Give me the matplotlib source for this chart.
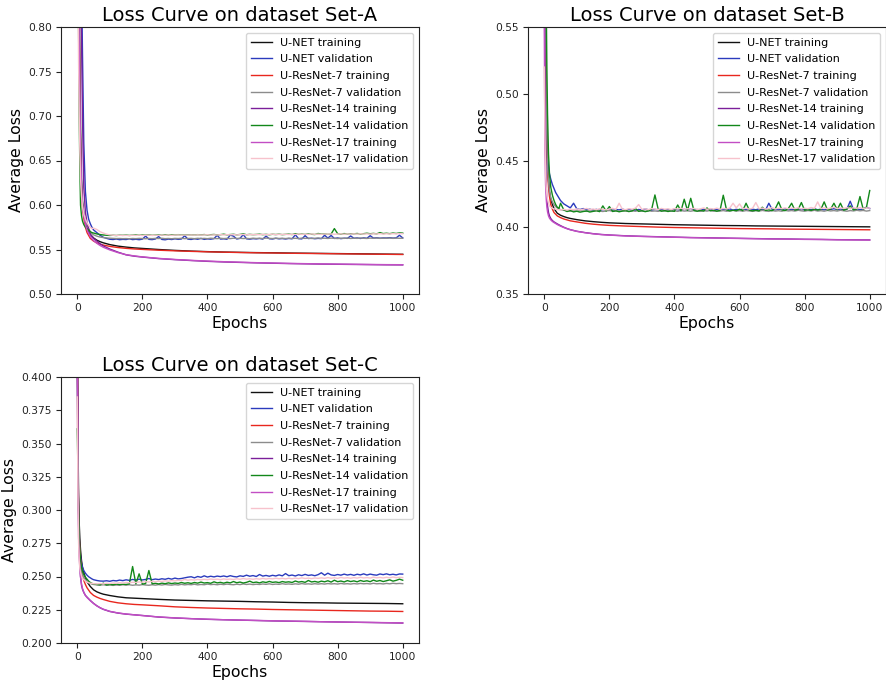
import matplotlib
matplotlib.use("Agg")
import matplotlib.pyplot as plt

# ---------------- epochs ----------------
ep_train = [0, 2, 4, 6, 8, 10, 13, 16, 20, 25, 30, 40, 50, 60, 70, 80, 100, 125, 150, 175,
            200, 250, 300, 350, 400, 450, 500, 550, 600, 650, 700, 750, 800, 850, 900, 950, 1000]
ep_val = [0, 2, 4, 6, 8, 10, 13, 16, 20, 25, 30, 35, 40, 45] + list(range(50, 1001, 10))

labels = ["U-NET training", "U-NET validation", "U-ResNet-7 training", "U-ResNet-7 validation",
          "U-ResNet-14 training", "U-ResNet-14 validation", "U-ResNet-17 training",
          "U-ResNet-17 validation"]
titles = ["Loss Curve on dataset Set-A", "Loss Curve on dataset Set-B", "Loss Curve on dataset Set-C"]

# ---------------- Set-A ----------------
a_unet_train = [1.10, 1.00, 0.92, 0.84, 0.76, 0.69, 0.63, 0.605, 0.59, 0.58, 0.574, 0.567, 0.5630,
                0.5605, 0.5588, 0.5575, 0.5555, 0.5538, 0.5527, 0.5518, 0.5512, 0.5500, 0.5490,
                0.5482, 0.5476, 0.5471, 0.5468, 0.5465, 0.5463, 0.5460, 0.5458, 0.5456, 0.5454,
                0.5452, 0.5450, 0.5448, 0.5446]
a_res7_train = [1.08, 0.98, 0.89, 0.80, 0.72, 0.66, 0.615, 0.597, 0.585, 0.575, 0.569, 0.5625, 0.5595,
                0.5575, 0.5560, 0.5550, 0.5535, 0.5522, 0.5513, 0.5506, 0.5501, 0.5492, 0.5485,
                0.5479, 0.5474, 0.5470, 0.5466, 0.5463, 0.5461, 0.5458, 0.5456, 0.5454, 0.5452,
                0.5450, 0.5448, 0.5446, 0.5444]
a_res14_train = [1.15, 1.08, 1.00, 0.94, 0.88, 0.84, 0.79, 0.70, 0.62, 0.592, 0.580, 0.567, 0.5625,
                 0.5595, 0.5565, 0.5540, 0.5505, 0.5470, 0.5440, 0.5425, 0.5415, 0.5398, 0.5386,
                 0.5376, 0.5367, 0.5360, 0.5355, 0.5350, 0.5346, 0.5342, 0.5339, 0.5336, 0.5334,
                 0.5332, 0.5330, 0.5328, 0.5327]
a_res17_train = [1.05, 0.95, 0.86, 0.78, 0.71, 0.66, 0.62, 0.60, 0.588, 0.578, 0.572, 0.5645, 0.5600,
                 0.5570, 0.5545, 0.5525, 0.5495, 0.5465, 0.5442, 0.5428, 0.5417, 0.5400, 0.5388,
                 0.5378, 0.5370, 0.5363, 0.5357, 0.5352, 0.5348, 0.5344, 0.5341, 0.5338, 0.5336,
                 0.5334, 0.5332, 0.5330, 0.5329]
a_unet_val = [1.10, 1.05, 0.98, 0.92, 0.87, 0.83, 0.86, 0.77, 0.67, 0.615, 0.594, 0.584, 0.579, 0.575,
              0.5720, 0.5690, 0.5660, 0.5637, 0.5625, 0.5615, 0.5612, 0.5618, 0.5610, 0.5614,
              0.5612, 0.5620, 0.5611, 0.5615, 0.5610, 0.5616, 0.5650, 0.5614, 0.5611, 0.5618,
              0.5645, 0.5613, 0.5609, 0.5617, 0.5612, 0.5620, 0.5614, 0.5618, 0.5655, 0.5616,
              0.5613, 0.5621, 0.5615, 0.5625, 0.5614, 0.5619, 0.5616, 0.5622, 0.5660, 0.5617,
              0.5620, 0.5615, 0.5662, 0.5650, 0.5618, 0.5625, 0.5668, 0.5620, 0.5616, 0.5622,
              0.5619, 0.5624, 0.5617, 0.5650, 0.5621, 0.5618, 0.5626, 0.5620, 0.5623, 0.5618,
              0.5624, 0.5620, 0.5665, 0.5622, 0.5619, 0.5655, 0.5623, 0.5627, 0.5621, 0.5625,
              0.5622, 0.5660, 0.5628, 0.5658, 0.5624, 0.5630, 0.5622, 0.5627, 0.5625, 0.5652,
              0.5626, 0.5630, 0.5624, 0.5631, 0.5626, 0.5655, 0.5628, 0.5632, 0.5627, 0.5630,
              0.5629, 0.5633, 0.5628, 0.5631, 0.5660, 0.5630]
a_res7_val = [1.05, 0.98, 0.90, 0.80, 0.72, 0.66, 0.62, 0.60, 0.59, 0.582, 0.577, 0.573, 0.570, 0.568,
              0.5665, 0.5650, 0.5640, 0.5634, 0.5630, 0.5627, 0.5625, 0.5623, 0.5624, 0.5622,
              0.5623, 0.5621, 0.5624, 0.5622, 0.5625, 0.5623, 0.5621, 0.5624, 0.5622, 0.5625,
              0.5623, 0.5626, 0.5622, 0.5624, 0.5621, 0.5625, 0.5623, 0.5626, 0.5622, 0.5624,
              0.5625, 0.5622, 0.5626, 0.5623, 0.5625, 0.5622, 0.5627, 0.5624, 0.5622, 0.5626,
              0.5623, 0.5625, 0.5622, 0.5627, 0.5624, 0.5626, 0.5623, 0.5625, 0.5622, 0.5627,
              0.5624, 0.5626, 0.5623, 0.5628, 0.5625, 0.5623, 0.5627, 0.5624, 0.5626, 0.5623,
              0.5627, 0.5624, 0.5626, 0.5623, 0.5628, 0.5625, 0.5627, 0.5624, 0.5626, 0.5629,
              0.5625, 0.5627, 0.5624, 0.5628, 0.5626, 0.5623, 0.5627, 0.5625, 0.5628, 0.5624,
              0.5627, 0.5625, 0.5629, 0.5626, 0.5624, 0.5628, 0.5626, 0.5629, 0.5625, 0.5627,
              0.5626, 0.5629, 0.5625, 0.5628, 0.5626, 0.5627]
a_res14_val = [1.00, 0.90, 0.80, 0.70, 0.64, 0.60, 0.588, 0.582, 0.578, 0.575, 0.573, 0.572, 0.570, 0.569,
               0.5685, 0.5675, 0.5668, 0.5663, 0.5660, 0.5658, 0.5660, 0.5657, 0.5661, 0.5659,
               0.5662, 0.5658, 0.5661, 0.5664, 0.5660, 0.5663, 0.5661, 0.5665, 0.5659, 0.5662,
               0.5664, 0.5661, 0.5666, 0.5662, 0.5665, 0.5663, 0.5667, 0.5662, 0.5665, 0.5663,
               0.5666, 0.5662, 0.5667, 0.5664, 0.5668, 0.5663, 0.5666, 0.5669, 0.5664, 0.5667,
               0.5672, 0.5665, 0.5668, 0.5671, 0.5665, 0.5669, 0.5676, 0.5666, 0.5670, 0.5667,
               0.5669, 0.5672, 0.5667, 0.5670, 0.5666, 0.5671, 0.5668, 0.5672, 0.5667, 0.5670,
               0.5673, 0.5668, 0.5678, 0.5670, 0.5673, 0.5669, 0.5675, 0.5671, 0.5668, 0.5680,
               0.5672, 0.5675, 0.5670, 0.5674, 0.5735, 0.5678, 0.5673, 0.5679, 0.5674, 0.5677,
               0.5676, 0.5680, 0.5674, 0.5678, 0.5683, 0.5677, 0.5681, 0.5676, 0.5690, 0.5679,
               0.5683, 0.5678, 0.5685, 0.5680, 0.5687, 0.5684]
a_res17_val = [0.95, 0.85, 0.76, 0.70, 0.66, 0.63, 0.61, 0.598, 0.590, 0.584, 0.580, 0.577, 0.575, 0.5735,
               0.5740, 0.5725, 0.5700, 0.5685, 0.5672, 0.5664, 0.5660, 0.5658, 0.5660, 0.5657,
               0.5659, 0.5656, 0.5660, 0.5658, 0.5661, 0.5657, 0.5660, 0.5662, 0.5658, 0.5661,
               0.5659, 0.5662, 0.5660, 0.5663, 0.5659, 0.5662, 0.5664, 0.5660, 0.5663, 0.5661,
               0.5664, 0.5661, 0.5665, 0.5662, 0.5664, 0.5666, 0.5662, 0.5665, 0.5663, 0.5667,
               0.5664, 0.5667, 0.5665, 0.5668, 0.5664, 0.5667, 0.5669, 0.5665, 0.5668, 0.5666,
               0.5669, 0.5666, 0.5670, 0.5667, 0.5669, 0.5672, 0.5667, 0.5670, 0.5668, 0.5671,
               0.5668, 0.5671, 0.5669, 0.5673, 0.5670, 0.5672, 0.5669, 0.5674, 0.5671, 0.5673,
               0.5670, 0.5674, 0.5672, 0.5675, 0.5671, 0.5674, 0.5676, 0.5672, 0.5675, 0.5673,
               0.5676, 0.5673, 0.5677, 0.5674, 0.5676, 0.5673, 0.5677, 0.5675, 0.5678, 0.5674,
               0.5677, 0.5675, 0.5678, 0.5676, 0.5679, 0.5677]

# ---------------- Set-B ----------------
b_unet_train = [0.80, 0.65, 0.56, 0.50, 0.465, 0.448, 0.435, 0.427, 0.421, 0.417, 0.414, 0.4105, 0.4090,
                0.4080, 0.4072, 0.4066, 0.4057, 0.4048, 0.4042, 0.4037, 0.4033, 0.4028, 0.4025,
                0.4022, 0.4019, 0.4017, 0.4015, 0.4013, 0.4012, 0.4010, 0.4009, 0.4008, 0.4007,
                0.4006, 0.4005, 0.4004, 0.4003]
b_res7_train = [0.78, 0.63, 0.545, 0.49, 0.458, 0.442, 0.430, 0.423, 0.417, 0.4135, 0.411, 0.4085, 0.4072,
                0.4062, 0.4055, 0.4048, 0.4040, 0.4030, 0.4023, 0.4018, 0.4014, 0.4009, 0.4005,
                0.4001, 0.3998, 0.3996, 0.3994, 0.3992, 0.3990, 0.3989, 0.3988, 0.3986, 0.3985,
                0.3984, 0.3983, 0.3982, 0.3981]
b_res14_train = [0.62, 0.50, 0.455, 0.432, 0.421, 0.416, 0.411, 0.4085, 0.4065, 0.4050, 0.4040, 0.4025,
                 0.4012, 0.4000, 0.3990, 0.3982, 0.3970, 0.3960, 0.3952, 0.3946, 0.3942, 0.3936,
                 0.3932, 0.3929, 0.3926, 0.3923, 0.3921, 0.3919, 0.3917, 0.3915, 0.3913, 0.3912,
                 0.3910, 0.3909, 0.3907, 0.3906, 0.3905]
b_res17_train = [0.55, 0.46, 0.432, 0.421, 0.415, 0.4115, 0.4085, 0.4068, 0.4055, 0.4043, 0.4035, 0.4020,
                 0.4008, 0.3998, 0.3989, 0.3981, 0.3969, 0.3959, 0.3951, 0.3945, 0.3941, 0.3935,
                 0.3931, 0.3928, 0.3925, 0.3922, 0.3920, 0.3918, 0.3916, 0.3914, 0.3912, 0.3911,
                 0.3909, 0.3908, 0.3906, 0.3905, 0.3904]
b_unet_val = [0.80, 0.65, 0.56, 0.50, 0.462, 0.452, 0.445, 0.440, 0.436, 0.432, 0.429, 0.426, 0.424, 0.422,
              0.4200, 0.4175, 0.4160, 0.4145, 0.4180, 0.4138, 0.4133, 0.4140, 0.4130, 0.4135,
              0.4128, 0.4134, 0.4126, 0.4132, 0.4129, 0.4135, 0.4127, 0.4133, 0.4130, 0.4136,
              0.4128, 0.4134, 0.4130, 0.4126, 0.4133, 0.4129, 0.4137, 0.4131, 0.4127, 0.4134,
              0.4130, 0.4136, 0.4128, 0.4133, 0.4129, 0.4135, 0.4131, 0.4127, 0.4134, 0.4130,
              0.4136, 0.4129, 0.4133, 0.4127, 0.4135, 0.4131, 0.4138, 0.4130, 0.4134, 0.4128,
              0.4135, 0.4131, 0.4137, 0.4129, 0.4134, 0.4130, 0.4136, 0.4132, 0.4128, 0.4135,
              0.4131, 0.4137, 0.4133, 0.4129, 0.4180, 0.4134, 0.4130, 0.4136, 0.4132, 0.4138,
              0.4131, 0.4135, 0.4129, 0.4137, 0.4133, 0.4130, 0.4136, 0.4132, 0.4138, 0.4131,
              0.4135, 0.4130, 0.4137, 0.4133, 0.4139, 0.4132, 0.4136, 0.4131, 0.4137, 0.4195,
              0.4134, 0.4138, 0.4132, 0.4137, 0.4150, 0.4140]
b_res7_val = [0.78, 0.63, 0.55, 0.495, 0.46, 0.445, 0.434, 0.427, 0.422, 0.419, 0.417, 0.4155, 0.4145, 0.4138,
              0.4132, 0.4127, 0.4124, 0.4121, 0.4123, 0.4120, 0.4124, 0.4121, 0.4119, 0.4123,
              0.4120, 0.4124, 0.4121, 0.4118, 0.4122, 0.4125, 0.4120, 0.4123, 0.4119, 0.4124,
              0.4121, 0.4118, 0.4123, 0.4120, 0.4125, 0.4121, 0.4119, 0.4124, 0.4120, 0.4122,
              0.4119, 0.4124, 0.4121, 0.4126, 0.4120, 0.4123, 0.4119, 0.4125, 0.4121, 0.4123,
              0.4120, 0.4125, 0.4122, 0.4119, 0.4124, 0.4121, 0.4126, 0.4120, 0.4123, 0.4121,
              0.4125, 0.4120, 0.4123, 0.4127, 0.4121, 0.4124, 0.4120, 0.4125, 0.4122, 0.4119,
              0.4124, 0.4121, 0.4126, 0.4122, 0.4119, 0.4125, 0.4121, 0.4124, 0.4120, 0.4126,
              0.4122, 0.4125, 0.4121, 0.4127, 0.4123, 0.4120, 0.4125, 0.4122, 0.4127, 0.4121,
              0.4124, 0.4120, 0.4126, 0.4122, 0.4125, 0.4121, 0.4127, 0.4123, 0.4120, 0.4125,
              0.4122, 0.4127, 0.4123, 0.4126, 0.4121, 0.4125]
b_res14_val = [0.90, 0.75, 0.64, 0.57, 0.52, 0.485, 0.455, 0.44, 0.43, 0.424, 0.42, 0.417, 0.415, 0.414,
               0.4180, 0.4130, 0.4118, 0.4125, 0.4115, 0.4120, 0.4113, 0.4118, 0.4122, 0.4114,
               0.4119, 0.4124, 0.4117, 0.4160, 0.4121, 0.4155, 0.4118, 0.4123, 0.4116, 0.4121,
               0.4125, 0.4118, 0.4122, 0.4140, 0.4119, 0.4124, 0.4117, 0.4122, 0.4135, 0.4242,
               0.4135, 0.4120, 0.4125, 0.4118, 0.4123, 0.4119, 0.4167, 0.4122, 0.4210, 0.4126,
               0.4217, 0.4125, 0.4120, 0.4127, 0.4121, 0.4145, 0.4123, 0.4128, 0.4120, 0.4126,
               0.4240, 0.4130, 0.4122, 0.4127, 0.4124, 0.4135, 0.4125, 0.4180, 0.4128, 0.4123,
               0.4127, 0.4122, 0.4150, 0.4126, 0.4130, 0.4124, 0.4140, 0.4190, 0.4130, 0.4125,
               0.4140, 0.4180, 0.4128, 0.4133, 0.4185, 0.4127, 0.4132, 0.4126, 0.4135, 0.4129,
               0.4134, 0.4190, 0.4130, 0.4136, 0.4180, 0.4131, 0.4180, 0.4128, 0.4135, 0.4160,
               0.4130, 0.4136, 0.4230, 0.4135, 0.4150, 0.4275]
b_res17_val = [0.52, 0.47, 0.44, 0.43, 0.424, 0.421, 0.418, 0.416, 0.415, 0.4142, 0.4138, 0.4135, 0.4133, 0.4131,
               0.4130, 0.4134, 0.4128, 0.4136, 0.4131, 0.4138, 0.4130, 0.4135, 0.4141, 0.4132,
               0.4137, 0.4131, 0.4139, 0.4134, 0.4130, 0.4136, 0.4142, 0.4133, 0.4180, 0.4135,
               0.4132, 0.4139, 0.4135, 0.4143, 0.4170, 0.4134, 0.4138, 0.4132, 0.4140, 0.4136,
               0.4133, 0.4141, 0.4135, 0.4138, 0.4132, 0.4140, 0.4136, 0.4143, 0.4134, 0.4139,
               0.4135, 0.4142, 0.4133, 0.4138, 0.4145, 0.4134, 0.4140, 0.4136, 0.4143, 0.4135,
               0.4141, 0.4137, 0.4144, 0.4180, 0.4145, 0.4175, 0.4138, 0.4143, 0.4136, 0.4142,
               0.4185, 0.4139, 0.4144, 0.4136, 0.4141, 0.4147, 0.4137, 0.4143, 0.4139, 0.4145,
               0.4138, 0.4144, 0.4140, 0.4146, 0.4137, 0.4143, 0.4139, 0.4148, 0.4141, 0.4190,
               0.4140, 0.4146, 0.4138, 0.4144, 0.4150, 0.4139, 0.4145, 0.4141, 0.4147, 0.4140,
               0.4146, 0.4142, 0.4148, 0.4140, 0.4145, 0.4143]

# ---------------- Set-C ----------------
c_unet_train = [0.45, 0.36, 0.31, 0.29, 0.278, 0.27, 0.262, 0.257, 0.253, 0.249, 0.246, 0.2425, 0.2400,
                0.2385, 0.2375, 0.2367, 0.2357, 0.2347, 0.2340, 0.2337, 0.2334, 0.2328, 0.2323,
                0.2320, 0.2317, 0.2315, 0.2313, 0.2310, 0.2308, 0.2305, 0.2303, 0.2302, 0.2300,
                0.2299, 0.2298, 0.2297, 0.2295]
c_res7_train = [0.44, 0.35, 0.30, 0.28, 0.27, 0.263, 0.256, 0.251, 0.247, 0.244, 0.2415, 0.2380, 0.2358,
                0.2345, 0.2335, 0.2327, 0.2313, 0.2302, 0.2295, 0.2290, 0.2287, 0.2280, 0.2272,
                0.2267, 0.2263, 0.2260, 0.2257, 0.2255, 0.2252, 0.2250, 0.2248, 0.2246, 0.2244,
                0.2242, 0.2240, 0.2239, 0.2237]
c_res14_train = [0.45, 0.34, 0.29, 0.27, 0.258, 0.25, 0.2435, 0.2405, 0.238, 0.2358, 0.2345, 0.2320,
                 0.2298, 0.2280, 0.2265, 0.2253, 0.2237, 0.2225, 0.2217, 0.2212, 0.2207, 0.2195,
                 0.2188, 0.2183, 0.2178, 0.2175, 0.2172, 0.2169, 0.2166, 0.2164, 0.2162, 0.2160,
                 0.2158, 0.2156, 0.2154, 0.2152, 0.2150]
c_res17_train = [0.41, 0.32, 0.28, 0.265, 0.256, 0.2495, 0.2445, 0.241, 0.2382, 0.2358, 0.2342, 0.2318,
                 0.2297, 0.2279, 0.2265, 0.2254, 0.2238, 0.2226, 0.2218, 0.2212, 0.2206, 0.2196,
                 0.2189, 0.2183, 0.2179, 0.2175, 0.2172, 0.2170, 0.2167, 0.2165, 0.2163, 0.2160,
                 0.2158, 0.2156, 0.2155, 0.2153, 0.2151]
c_unet_val = [0.42, 0.34, 0.30, 0.28, 0.27, 0.265, 0.26, 0.257, 0.2545, 0.2525, 0.251, 0.2498, 0.249, 0.2482,
              0.2476, 0.2470, 0.2466, 0.2465, 0.2468, 0.2464, 0.2470, 0.2467, 0.2473, 0.2469,
              0.2475, 0.2471, 0.2478, 0.2473, 0.2480, 0.2474, 0.2478, 0.2485, 0.2476, 0.2481,
              0.2477, 0.2483, 0.2479, 0.2486, 0.2480, 0.2488, 0.2482, 0.2485, 0.2490, 0.2495,
              0.2498, 0.2490, 0.2500, 0.2494, 0.2505, 0.2496, 0.2502, 0.2497, 0.2503, 0.2499,
              0.2504, 0.2498, 0.2506, 0.2500, 0.2497, 0.2505, 0.2501, 0.2510, 0.2502, 0.2507,
              0.2500, 0.2515, 0.2503, 0.2508, 0.2502, 0.2509, 0.2504, 0.2512, 0.2505, 0.2522,
              0.2506, 0.2511, 0.2504, 0.2513, 0.2507, 0.2516, 0.2508, 0.2512, 0.2506, 0.2514,
              0.2528, 0.2510, 0.2525, 0.2512, 0.2508, 0.2515, 0.2510, 0.2518, 0.2511, 0.2516,
              0.2509, 0.2517, 0.2512, 0.2520, 0.2511, 0.2518, 0.2513, 0.2510, 0.2519, 0.2514,
              0.2520, 0.2513, 0.2517, 0.2512, 0.2519, 0.2518]
c_res7_val = [0.40, 0.33, 0.295, 0.275, 0.265, 0.259, 0.2545, 0.2515, 0.2492, 0.2475, 0.2462, 0.2455, 0.2448, 0.2443,
              0.2440, 0.2437, 0.2435, 0.2438, 0.2434, 0.2437, 0.2433, 0.2436, 0.2434, 0.2438,
              0.2435, 0.2438, 0.2434, 0.2437, 0.2435, 0.2439, 0.2436, 0.2434, 0.2438, 0.2435,
              0.2439, 0.2436, 0.2440, 0.2437, 0.2435, 0.2439, 0.2436, 0.2441, 0.2437, 0.2440,
              0.2438, 0.2442, 0.2437, 0.2440, 0.2438, 0.2443, 0.2439, 0.2441, 0.2438, 0.2442,
              0.2439, 0.2443, 0.2440, 0.2438, 0.2442, 0.2439, 0.2444, 0.2440, 0.2443, 0.2439,
              0.2442, 0.2440, 0.2444, 0.2441, 0.2445, 0.2440, 0.2443, 0.2441, 0.2446, 0.2442,
              0.2444, 0.2441, 0.2445, 0.2442, 0.2447, 0.2443, 0.2445, 0.2442, 0.2446, 0.2443,
              0.2446, 0.2443, 0.2447, 0.2444, 0.2446, 0.2443, 0.2448, 0.2444, 0.2446, 0.2443,
              0.2447, 0.2444, 0.2448, 0.2445, 0.2447, 0.2444, 0.2449, 0.2445, 0.2447, 0.2444,
              0.2448, 0.2445, 0.2449, 0.2446, 0.2448, 0.2446]
c_res14_val = [0.361, 0.33, 0.30, 0.28, 0.268, 0.262, 0.257, 0.254, 0.2515, 0.2495, 0.248, 0.2465, 0.2455, 0.2448,
               0.2445, 0.2440, 0.2437, 0.2450, 0.2436, 0.2440, 0.2438, 0.2443, 0.2439, 0.2442,
               0.2440, 0.2445, 0.2575, 0.2445, 0.2520, 0.2443, 0.2447, 0.2545, 0.2445, 0.2449,
               0.2444, 0.2450, 0.2446, 0.2452, 0.2447, 0.2451, 0.2448, 0.2455, 0.2449, 0.2453,
               0.2448, 0.2455, 0.2450, 0.2458, 0.2451, 0.2454, 0.2449, 0.2460, 0.2452, 0.2456,
               0.2450, 0.2457, 0.2452, 0.2462, 0.2453, 0.2458, 0.2451, 0.2456, 0.2465, 0.2454,
               0.2458, 0.2452, 0.2460, 0.2455, 0.2463, 0.2456, 0.2459, 0.2454, 0.2462, 0.2457,
               0.2460, 0.2455, 0.2466, 0.2458, 0.2462, 0.2456, 0.2470, 0.2459, 0.2463, 0.2457,
               0.2465, 0.2460, 0.2468, 0.2458, 0.2472, 0.2461, 0.2466, 0.2459, 0.2469, 0.2462,
               0.2467, 0.2460, 0.2470, 0.2463, 0.2468, 0.2461, 0.2473, 0.2464, 0.2470, 0.2462,
               0.2468, 0.2475, 0.2465, 0.2471, 0.2480, 0.2472]
c_res17_val = [0.385, 0.31, 0.275, 0.262, 0.256, 0.253, 0.2505, 0.2488, 0.2475, 0.2465, 0.2458, 0.2453, 0.245, 0.2448,
               0.2446, 0.2444, 0.2447, 0.2445, 0.2449, 0.2447, 0.2451, 0.2449, 0.2453, 0.2451,
               0.2455, 0.2453, 0.2457, 0.2455, 0.2459, 0.2457, 0.2461, 0.2459, 0.2463, 0.2461,
               0.2465, 0.2463, 0.2467, 0.2465, 0.2469, 0.2467, 0.2471, 0.2469, 0.2478, 0.2472,
               0.2476, 0.2473, 0.2478, 0.2475, 0.2479, 0.2476, 0.2481, 0.2477, 0.2480, 0.2476,
               0.2482, 0.2478, 0.2481, 0.2477, 0.2483, 0.2479, 0.2485, 0.2480, 0.2483, 0.2479,
               0.2484, 0.2480, 0.2486, 0.2481, 0.2485, 0.2482, 0.2487, 0.2483, 0.2486, 0.2482,
               0.2487, 0.2483, 0.2488, 0.2484, 0.2490, 0.2485, 0.2488, 0.2484, 0.2489, 0.2486,
               0.2490, 0.2486, 0.2492, 0.2487, 0.2491, 0.2486, 0.2493, 0.2488, 0.2491, 0.2487,
               0.2492, 0.2488, 0.2494, 0.2489, 0.2492, 0.2488, 0.2495, 0.2490, 0.2493, 0.2489,
               0.2494, 0.2490, 0.2496, 0.2491, 0.2494, 0.2492]

colors = ["#111111", "#2b3bbd", "#e8271e", "#8c8c8c", "#7b1f9a", "#12881a", "#c24ec4", "#f7c2cc"]

panels = [
    (a_unet_train, a_unet_val, a_res7_train, a_res7_val, a_res14_train, a_res14_val, a_res17_train, a_res17_val),
    (b_unet_train, b_unet_val, b_res7_train, b_res7_val, b_res14_train, b_res14_val, b_res17_train, b_res17_val),
    (c_unet_train, c_unet_val, c_res7_train, c_res7_val, c_res14_train, c_res14_val, c_res17_train, c_res17_val),
]
ylims = [(0.50, 0.80), (0.35, 0.55), (0.20, 0.40)]
yticks = [[0.50, 0.55, 0.60, 0.65, 0.70, 0.75, 0.80],
          [0.35, 0.40, 0.45, 0.50, 0.55],
          [0.200, 0.225, 0.250, 0.275, 0.300, 0.325, 0.350, 0.375, 0.400]]
yfmt = ["%.2f", "%.2f", "%.3f"]

W, H = 887, 682
rects = [(61, 27, 419, 294), (528, 27, 886, 294), (61, 377, 419, 643)]

fig = plt.figure(figsize=(W / 100, H / 100), dpi=100)
for k in range(3):
    x0, y0, x1, y1 = rects[k]
    ax = fig.add_axes([x0 / W, 1 - y1 / H, (x1 - x0) / W, (y1 - y0) / H])
    series = panels[k]
    for i, s in enumerate(series):
        xs = ep_train if i % 2 == 0 else ep_val
        ax.plot(xs, s, color=colors[i], lw=1.0, label=labels[i])
    ax.set_xlim(-50, 1050)
    ax.set_ylim(*ylims[k])
    ax.set_yticks(yticks[k])
    ax.set_yticklabels([yfmt[k] % v for v in yticks[k]])
    ax.set_xticks([0, 200, 400, 600, 800, 1000])
    ax.tick_params(labelsize=7.7, length=3.5, width=0.8, pad=3, colors="#222222")
    for sp in ax.spines.values():
        sp.set_linewidth(0.8)
        sp.set_color("#222222")
    ax.set_title(titles[k], fontsize=14, pad=4)
    ax.set_xlabel("Epochs", fontsize=11.3, labelpad=2)
    ax.set_ylabel("Average Loss", fontsize=11.3, labelpad=3)
    ax.legend(loc="upper right", fontsize=8.0, handlelength=1.9, handletextpad=0.7,
              borderpad=0.45, labelspacing=0.6, borderaxespad=0.5, framealpha=0.8)

fig.savefig("out.png", dpi=100)
